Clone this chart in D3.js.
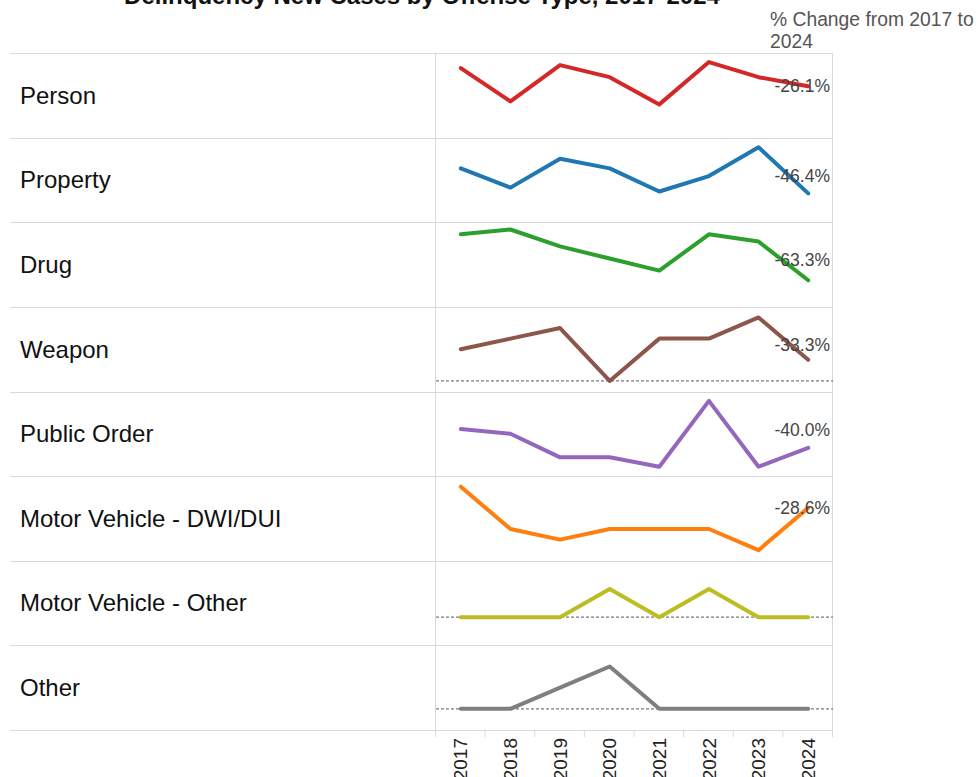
<!DOCTYPE html>
<html>
<head>
<meta charset="utf-8">
<script src="https://cdn.jsdelivr.net/npm/d3@7"></script>
<style>
  body { margin: 0; background: #fff; }
  svg { display: block; font-family: "Liberation Sans", Arial, sans-serif; }
</style>
</head>
<body>
<svg width="979" height="777"></svg>
<script>
  // DATA (new cases per year)
  const years = [2017, 2018, 2019, 2020, 2021, 2022, 2023, 2024];
  const categories = ["Person", "Property", "Drug", "Weapon", "Public Order",
    "Motor Vehicle - DWI/DUI", "Motor Vehicle - Other", "Other"];
  const personCases = [46, 24, 48, 40, 22, 50, 40, 34];
  const propertyCases = [28, 18, 33, 28, 16, 24, 39, 15];
  const drugCases = [30, 32, 25, 20, 15, 30, 27, 11];
  const weaponCases = [3, 4, 5, 0, 4, 4, 6, 2];
  const publicOrderCases = [10, 9, 4, 4, 2, 16, 2, 6];
  const dwiCases = [7, 3, 2, 3, 3, 3, 1, 5];
  const mvOtherCases = [0, 0, 0, 1, 0, 1, 0, 0];
  const otherCases = [0, 0, 1, 2, 0, 0, 0, 0];
  // independent axis range of each row
  const axisDomains = [[0, 56], [0, 44], [0, 35], [-1, 7], [0, 18], [0, 8], [-1, 2], [-1, 3]];
  const colors = ["#d62728", "#1f77b4", "#2ca02c", "#8c564b", "#9467bd", "#ff7f0e", "#bcbd22", "#7f7f7f"];

  const seriesValues = [personCases, propertyCases, drugCases, weaponCases,
    publicOrderCases, dwiCases, mvOtherCases, otherCases];
  const series = categories.map((name, i) => ({
    name, values: seriesValues[i], domain: axisDomains[i], color: colors[i]
  }));

  // SVG PARAMETERS
  const svg = d3.select("svg");
  const leftX = 10, paneLeft = 436, paneRight = 833;
  const topY = 53, bottomY = 730;
  const gridColor = "#d9d9d9";

  const rowScale = d3.scaleBand().domain(categories).range([topY, bottomY]);
  const xScale = d3.scaleBand().domain(years).range([paneLeft, paneRight]);
  const xCenter = (yr) => xScale(yr) + xScale.bandwidth() / 2;
  // plain hyphen for the minus sign, as in the original
  const fmt = d3.formatLocale({
    decimal: ".", thousands: ",", grouping: [3], currency: ["$", ""], minus: "-"
  }).format(".1%");

  // TITLE AND HEADER
  svg.append("text")
    .attr("x", 422).attr("y", 4)
    .attr("text-anchor", "middle")
    .attr("font-size", 24).attr("font-weight", "bold")
    .attr("fill", "#111")
    .text("Delinquency New Cases by Offense Type, 2017-2024");

  const header = svg.append("text")
    .attr("font-size", 19.3).attr("fill", "#555");
  header.append("tspan").attr("x", 770).attr("y", 26).text("% Change from 2017 to");
  header.append("tspan").attr("x", 770).attr("y", 47.7).text("2024");

  // GRID: ROW DIVIDERS AND PANE BORDERS
  const grid = svg.append("g").attr("stroke", gridColor).attr("stroke-width", 1);
  grid.selectAll("line.row")
    .data(categories.concat(["end"]))
    .enter().append("line")
    .attr("class", "row")
    .attr("x1", leftX).attr("x2", paneRight)
    .attr("y1", (d, i) => Math.round(topY + i * rowScale.bandwidth()) + 0.5)
    .attr("y2", (d, i) => Math.round(topY + i * rowScale.bandwidth()) + 0.5);
  grid.selectAll("line.col")
    .data([paneLeft, paneRight])
    .enter().append("line")
    .attr("class", "col")
    .attr("x1", (d) => d - 0.5).attr("x2", (d) => d - 0.5)
    .attr("y1", topY).attr("y2", bottomY);

  // CATEGORY LABELS
  svg.append("g").selectAll("text")
    .data(series)
    .enter().append("text")
    .attr("x", 20)
    .attr("y", (d) => rowScale(d.name) + rowScale.bandwidth() / 2)
    .attr("dy", "0.35em")
    .attr("font-size", 24).attr("fill", "#111")
    .text((d) => d.name);

  // ROWS OF SPARKLINES
  series.forEach((s) => {
    const y0 = rowScale(s.name);
    const yScale = d3.scaleLinear().domain(s.domain)
      .range([y0 + rowScale.bandwidth(), y0]);
    const g = svg.append("g");

    if (s.domain[0] < 0) {
      g.append("line")
        .attr("x1", paneLeft).attr("x2", paneRight)
        .attr("y1", yScale(0)).attr("y2", yScale(0))
        .attr("stroke", "#7a7a7a").attr("stroke-width", 1.2)
        .attr("stroke-dasharray", "3,2");
    }

    const line = d3.line()
      .x((d, j) => xCenter(years[j]))
      .y((d) => yScale(d));
    g.append("path")
      .datum(s.values)
      .attr("d", line)
      .attr("fill", "none")
      .attr("stroke", s.color)
      .attr("stroke-width", 4)
      .attr("stroke-linejoin", "round")
      .attr("stroke-linecap", "round");

    // % CHANGE LABEL
    const first = s.values[0], last = s.values[s.values.length - 1];
    if (first !== 0) {
      const endY = yScale(last);
      g.append("text")
        .attr("x", 830)
        .attr("y", Math.min(endY, y0 + 38))
        .attr("dy", "0.35em")
        .attr("text-anchor", "end")
        .attr("font-size", 17.5).attr("fill", "#444")
        .text(fmt((last - first) / first));
    }
  });

  // X AXIS
  const xAxis = d3.axisBottom(xScale).tickSize(0).tickPadding(0);
  const xAxisG = svg.append("g")
    .attr("transform", `translate(0,${bottomY})`)
    .call(xAxis);
  xAxisG.select(".domain").remove();
  xAxisG.selectAll("text")
    .attr("transform", "rotate(-90)")
    .attr("x", -8).attr("y", 0)
    .attr("dy", "0.35em")
    .attr("text-anchor", "end")
    .attr("font-size", 19)
    .attr("font-family", "Liberation Sans, Arial, sans-serif")
    .attr("fill", "#222");
  xAxisG.selectAll("line.edge")
    .data(years.map((yr) => xScale(yr)).concat([paneRight]))
    .enter().append("line")
    .attr("class", "edge")
    .attr("x1", (d) => d - 0.5).attr("x2", (d) => d - 0.5)
    .attr("y1", 0).attr("y2", 7)
    .attr("stroke", gridColor);
</script>
</body>
</html>
